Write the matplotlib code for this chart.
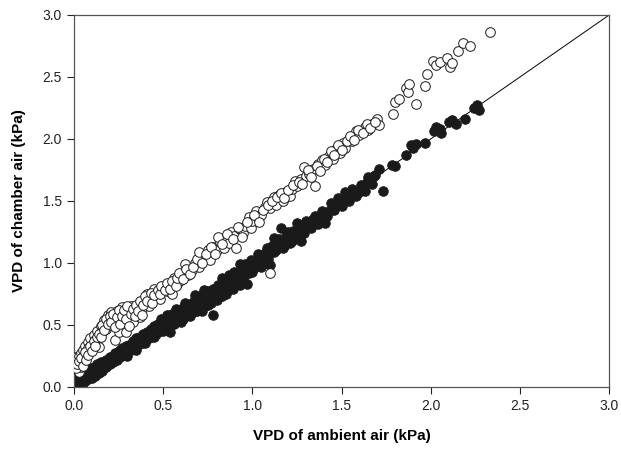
import matplotlib
matplotlib.use("Agg")
import matplotlib.pyplot as plt
import matplotlib.ticker as mticker

plt.rcParams["font.family"] = ["Liberation Sans", "DejaVu Sans"]

# chamber VPD vs ambient VPD, open circles (upper series)
open_x = [0.00, 0.01, 0.01, 0.02, 0.02, 0.03, 0.03, 0.03, 0.04, 0.04, 0.05, 0.05,
          0.06, 0.06, 0.07, 0.08, 0.08, 0.09, 0.10, 0.11, 0.12, 0.13, 0.14, 0.15,
          0.16, 0.17, 0.18, 0.19, 0.20, 0.21, 0.22, 0.23, 0.24, 0.25, 0.26, 0.27,
          0.28, 0.29, 0.30, 0.31, 0.32, 0.33, 0.35, 0.36, 0.37, 0.38, 0.40, 0.41,
          0.42, 0.44, 0.45, 0.46, 0.48, 0.50, 0.52, 0.53, 0.55, 0.56, 0.58, 0.60,
          0.61, 0.62, 0.64, 0.66, 0.68, 0.70, 0.71, 0.73, 0.75, 0.76, 0.78, 0.80,
          0.82, 0.84, 0.85, 0.87, 0.88, 0.90, 0.91, 0.93, 0.95, 0.96, 0.98, 0.99,
          1.00, 1.02, 1.03, 1.05, 1.07, 1.08, 1.10, 1.10, 1.12, 1.13, 1.15, 1.17,
          1.19, 1.21, 1.22, 1.24, 1.25, 1.27, 1.29, 1.30, 1.32, 1.34, 1.35, 1.37,
          1.39, 1.41, 1.43, 1.45, 1.47, 1.49, 1.51, 1.52, 1.54, 1.56, 1.58, 1.60,
          1.63, 1.65, 1.67, 1.70, 1.71, 1.79, 1.80, 1.82, 1.86, 1.87, 1.88, 1.92,
          1.97, 1.98, 2.01, 2.03, 2.05, 2.09, 2.11, 2.12, 2.15, 2.18, 2.22, 2.33]
open_y = [0.17, 0.20, 0.24, 0.14, 0.22, 0.12, 0.18, 0.25, 0.16, 0.27, 0.21, 0.30,
          0.24, 0.33, 0.28, 0.36, 0.31, 0.39, 0.34, 0.42, 0.38, 0.45, 0.32, 0.49,
          0.44, 0.54, 0.47, 0.58, 0.50, 0.60, 0.55, 0.38, 0.61, 0.44, 0.58, 0.64,
          0.53, 0.44, 0.61, 0.57, 0.65, 0.52, 0.60, 0.66, 0.56, 0.63, 0.68, 0.75,
          0.65, 0.72, 0.79, 0.76, 0.71, 0.80, 0.77, 0.82, 0.75, 0.88, 0.83, 0.86,
          0.91, 0.99, 0.90, 0.94, 1.00, 0.97, 1.06, 1.04, 1.10, 1.02, 1.13, 1.10,
          1.17, 1.12, 1.20, 1.16, 1.25, 1.22, 1.12, 1.27, 1.24, 1.30, 1.37, 1.28,
          1.34, 1.42, 1.36, 1.39, 1.45, 1.49, 0.92, 1.44, 1.53, 1.47, 1.55, 1.50,
          1.57, 1.54, 1.60, 1.66, 1.62, 1.68, 1.77, 1.70, 1.72, 1.76, 1.62, 1.80,
          1.83, 1.79, 1.86, 1.84, 1.92, 1.89, 1.97, 1.93, 2.00, 1.98, 2.06, 2.03,
          2.10, 2.07, 2.12, 2.16, 2.11, 2.20, 2.30, 2.32, 2.41, 2.38, 2.44, 2.28,
          2.43, 2.52, 2.63, 2.60, 2.62, 2.65, 2.58, 2.61, 2.71, 2.77, 2.75, 2.86]
open_extra_x = [0.01, 0.02, 0.03, 0.04, 0.05, 0.06, 0.07, 0.08, 0.09, 0.10, 0.11, 0.12,
                0.13, 0.14, 0.15, 0.16, 0.17, 0.18, 0.19, 0.20, 0.21, 0.22, 0.23, 0.24,
                0.25, 0.26, 0.27, 0.28, 0.29, 0.30, 0.31, 0.32, 0.33, 0.34, 0.35, 0.36,
                0.37, 0.38, 0.39, 0.40, 0.41, 0.43, 0.44, 0.45, 0.47, 0.48, 0.49, 0.51,
                0.52, 0.54, 0.55, 0.57, 0.58, 0.59, 0.61, 0.63, 0.65, 0.67, 0.69, 0.70,
                0.72, 0.74, 0.77, 0.79, 0.81, 0.83, 0.86, 0.89, 0.92, 0.94, 0.97, 1.01,
                1.04, 1.06, 1.09, 1.11, 1.14, 1.16, 1.18, 1.20, 1.23, 1.26, 1.28, 1.31,
                1.33, 1.36, 1.38, 1.40, 1.42, 1.44, 1.46, 1.48, 1.50, 1.53, 1.55, 1.57,
                1.59, 1.62, 1.64, 1.66, 1.69]
open_extra_y = [0.15, 0.18, 0.21, 0.23, 0.17, 0.28, 0.22, 0.26, 0.33, 0.29, 0.37, 0.33,
                0.40, 0.43, 0.40, 0.50, 0.46, 0.55, 0.51, 0.57, 0.52, 0.59, 0.48, 0.56,
                0.62, 0.51, 0.57, 0.62, 0.55, 0.65, 0.49, 0.59, 0.63, 0.57, 0.66, 0.61,
                0.69, 0.58, 0.66, 0.73, 0.69, 0.76, 0.68, 0.74, 0.78, 0.75, 0.81, 0.78,
                0.84, 0.79, 0.85, 0.81, 0.88, 0.92, 0.87, 0.95, 0.91, 0.97, 1.03, 1.09,
                1.00, 1.07, 1.13, 1.07, 1.21, 1.15, 1.23, 1.19, 1.29, 1.21, 1.33, 1.39,
                1.33, 1.43, 1.47, 1.50, 1.53, 1.56, 1.52, 1.59, 1.63, 1.65, 1.64, 1.75,
                1.69, 1.78, 1.74, 1.84, 1.81, 1.90, 1.87, 1.95, 1.91, 1.98, 2.02, 1.99,
                2.07, 2.05, 2.12, 2.09, 2.14]

# filled circles (close to the 1:1 line)
filled_x = [0.00, 0.01, 0.01, 0.02, 0.02, 0.03, 0.03, 0.04, 0.04, 0.05, 0.05, 0.06,
            0.07, 0.07, 0.08, 0.09, 0.10, 0.11, 0.12, 0.13, 0.14, 0.15, 0.16, 0.18,
            0.19, 0.20, 0.22, 0.23, 0.25, 0.26, 0.28, 0.30, 0.31, 0.33, 0.35, 0.36,
            0.38, 0.40, 0.41, 0.43, 0.45, 0.46, 0.48, 0.49, 0.50, 0.51, 0.53, 0.54,
            0.55, 0.56, 0.58, 0.60, 0.61, 0.63, 0.64, 0.66, 0.67, 0.69, 0.70, 0.72,
            0.72, 0.74, 0.75, 0.77, 0.78, 0.79, 0.80, 0.82, 0.83, 0.85, 0.86, 0.88,
            0.89, 0.91, 0.92, 0.94, 0.95, 0.97, 0.97, 0.99, 1.00, 1.02, 1.04, 1.05,
            1.07, 1.09, 1.10, 1.10, 1.12, 1.14, 1.16, 1.16, 1.18, 1.20, 1.22, 1.24,
            1.26, 1.27, 1.28, 1.30, 1.32, 1.34, 1.36, 1.38, 1.40, 1.41, 1.43, 1.45,
            1.47, 1.49, 1.51, 1.53, 1.55, 1.57, 1.60, 1.62, 1.64, 1.66, 1.68, 1.71,
            1.73, 1.78, 1.80, 1.86, 1.89, 1.90, 1.92, 1.97, 2.02, 2.03, 2.05, 2.06,
            2.10, 2.12, 2.14, 2.19, 2.24, 2.26, 2.27]
filled_y = [0.01, 0.03, 0.06, 0.02, 0.08, 0.05, 0.11, 0.03, 0.08, 0.06, 0.12, 0.09,
            0.07, 0.13, 0.10, 0.14, 0.11, 0.16, 0.13, 0.18, 0.15, 0.20, 0.17, 0.22,
            0.19, 0.24, 0.23, 0.27, 0.26, 0.30, 0.28, 0.32, 0.30, 0.35, 0.34, 0.38,
            0.37, 0.41, 0.39, 0.44, 0.42, 0.47, 0.45, 0.55, 0.49, 0.53, 0.47, 0.44,
            0.52, 0.57, 0.54, 0.58, 0.55, 0.61, 0.58, 0.62, 0.60, 0.65, 0.62, 0.68,
            0.61, 0.70, 0.66, 0.72, 0.58, 0.76, 0.73, 0.79, 0.76, 0.83, 0.80, 0.87,
            0.84, 0.90, 0.87, 0.94, 0.91, 0.83, 0.97, 0.95, 1.01, 0.99, 1.05, 1.02,
            1.08, 1.06, 0.98, 1.11, 1.09, 1.13, 1.28, 1.16, 1.14, 1.20, 1.18, 1.23,
            1.21, 1.18, 1.27, 1.34, 1.30, 1.35, 1.33, 1.37, 1.40, 1.32, 1.42, 1.45,
            1.47, 1.51, 1.49, 1.55, 1.53, 1.58, 1.57, 1.62, 1.65, 1.68, 1.70, 1.76,
            1.58, 1.79, 1.78, 1.87, 1.95, 1.93, 1.96, 1.97, 2.06, 2.10, 2.08, 2.05,
            2.14, 2.15, 2.12, 2.16, 2.25, 2.27, 2.23]
filled_extra_x = [0.02, 0.03, 0.05, 0.06, 0.08, 0.09, 0.10, 0.11, 0.12, 0.13, 0.14, 0.15,
                  0.16, 0.17, 0.18, 0.19, 0.20, 0.21, 0.22, 0.23, 0.24, 0.25, 0.26, 0.27,
                  0.28, 0.29, 0.30, 0.31, 0.32, 0.33, 0.34, 0.35, 0.36, 0.37, 0.38, 0.39,
                  0.40, 0.41, 0.42, 0.43, 0.44, 0.45, 0.46, 0.47, 0.48, 0.49, 0.50, 0.51,
                  0.52, 0.53, 0.54, 0.55, 0.56, 0.57, 0.58, 0.59, 0.60, 0.61, 0.62, 0.63,
                  0.64, 0.65, 0.66, 0.67, 0.68, 0.69, 0.70, 0.71, 0.72, 0.73, 0.74, 0.75,
                  0.76, 0.77, 0.78, 0.79, 0.80, 0.81, 0.82, 0.83, 0.84, 0.85, 0.86, 0.87,
                  0.88, 0.89, 0.90, 0.91, 0.93, 0.94, 0.95, 0.96, 0.98, 0.99, 1.01, 1.03,
                  1.04, 1.06, 1.08, 1.09, 1.11, 1.13, 1.15, 1.17, 1.19, 1.21, 1.23, 1.25,
                  1.27, 1.29, 1.31, 1.33, 1.35, 1.37, 1.39, 1.42, 1.44, 1.46, 1.48, 1.50,
                  1.52, 1.54, 1.56, 1.58, 1.61, 1.63, 1.65, 1.67, 1.69,
                  0.30, 0.35, 0.40, 0.45, 0.50, 0.52, 0.55, 0.57, 0.60, 0.62, 0.65, 0.68,
                  0.70, 0.73, 0.75, 0.80, 0.83, 0.85, 0.90, 0.93, 0.95, 1.00, 1.05, 1.12,
                  1.20, 1.25]
filled_extra_y = [0.00, 0.02, 0.03, 0.05, 0.06, 0.09, 0.07, 0.12, 0.09, 0.14, 0.11, 0.16,
                  0.13, 0.19, 0.16, 0.22, 0.18, 0.24, 0.20, 0.25, 0.22, 0.29, 0.24, 0.31,
                  0.26, 0.33, 0.28, 0.34, 0.30, 0.37, 0.32, 0.39, 0.34, 0.40, 0.35, 0.43,
                  0.37, 0.44, 0.39, 0.47, 0.41, 0.49, 0.43, 0.51, 0.48, 0.46, 0.54, 0.48,
                  0.56, 0.52, 0.50, 0.59, 0.51, 0.56, 0.60, 0.53, 0.63, 0.59, 0.57, 0.66,
                  0.62, 0.60, 0.68, 0.64, 0.71, 0.61, 0.69, 0.65, 0.74, 0.69, 0.66, 0.77,
                  0.71, 0.68, 0.79, 0.74, 0.70, 0.82, 0.76, 0.73, 0.85, 0.79, 0.77, 0.90,
                  0.82, 0.79, 0.93, 0.86, 0.82, 0.97, 0.88, 0.99, 0.92, 1.02, 0.96, 1.07,
                  1.00, 1.04, 1.12, 1.03, 1.14, 1.10, 1.19, 1.12, 1.22, 1.16, 1.26, 1.20,
                  1.30, 1.24, 1.32, 1.28, 1.38, 1.31, 1.42, 1.38, 1.48, 1.43, 1.52, 1.46,
                  1.57, 1.50, 1.60, 1.54, 1.63, 1.58, 1.69, 1.64, 1.71,
                  0.25, 0.30, 0.35, 0.40, 0.45, 0.58, 0.56, 0.63, 0.52, 0.68, 0.57, 0.74,
                  0.63, 0.78, 0.68, 0.73, 0.88, 0.75, 0.81, 0.99, 0.86, 0.93, 0.97, 1.20,
                  1.25, 1.32]

one_to_one = [0.0, 3.0]

fig = plt.figure(figsize=(6.21, 4.54), dpi=100)
ax = fig.add_axes([0.119, 0.148, 0.862, 0.819])

ax.plot(one_to_one, one_to_one, color="black", lw=0.7, zorder=1)
ax.scatter(filled_x + filled_extra_x, filled_y + filled_extra_y, s=48,
           facecolor="#1a1a1a", edgecolor="#1a1a1a", linewidths=0.6, zorder=2)
ax.scatter(open_x + open_extra_x, open_y + open_extra_y, s=48,
           facecolor="white", edgecolor="#1a1a1a", linewidths=0.7, zorder=3)

ax.set_xlim(0, 3)
ax.set_ylim(0, 3)
ax.set_xticks([0, 0.5, 1.0, 1.5, 2.0, 2.5, 3.0])
ax.set_yticks([0, 0.5, 1.0, 1.5, 2.0, 2.5, 3.0])
ax.xaxis.set_major_formatter(mticker.FormatStrFormatter("%.1f"))
ax.yaxis.set_major_formatter(mticker.FormatStrFormatter("%.1f"))
ax.tick_params(direction="out", length=5, width=0.8, labelsize=10, colors="#222222")
for side in ax.spines.values():
    side.set_color("#555555")
    side.set_linewidth(0.9)

ax.set_xlabel("VPD of ambient air (kPa)", fontsize=11, fontweight="bold", labelpad=12)
ax.set_ylabel("VPD of chamber air (kPa)", fontsize=11, fontweight="bold", labelpad=12)

fig.savefig("out.png", dpi=100)
